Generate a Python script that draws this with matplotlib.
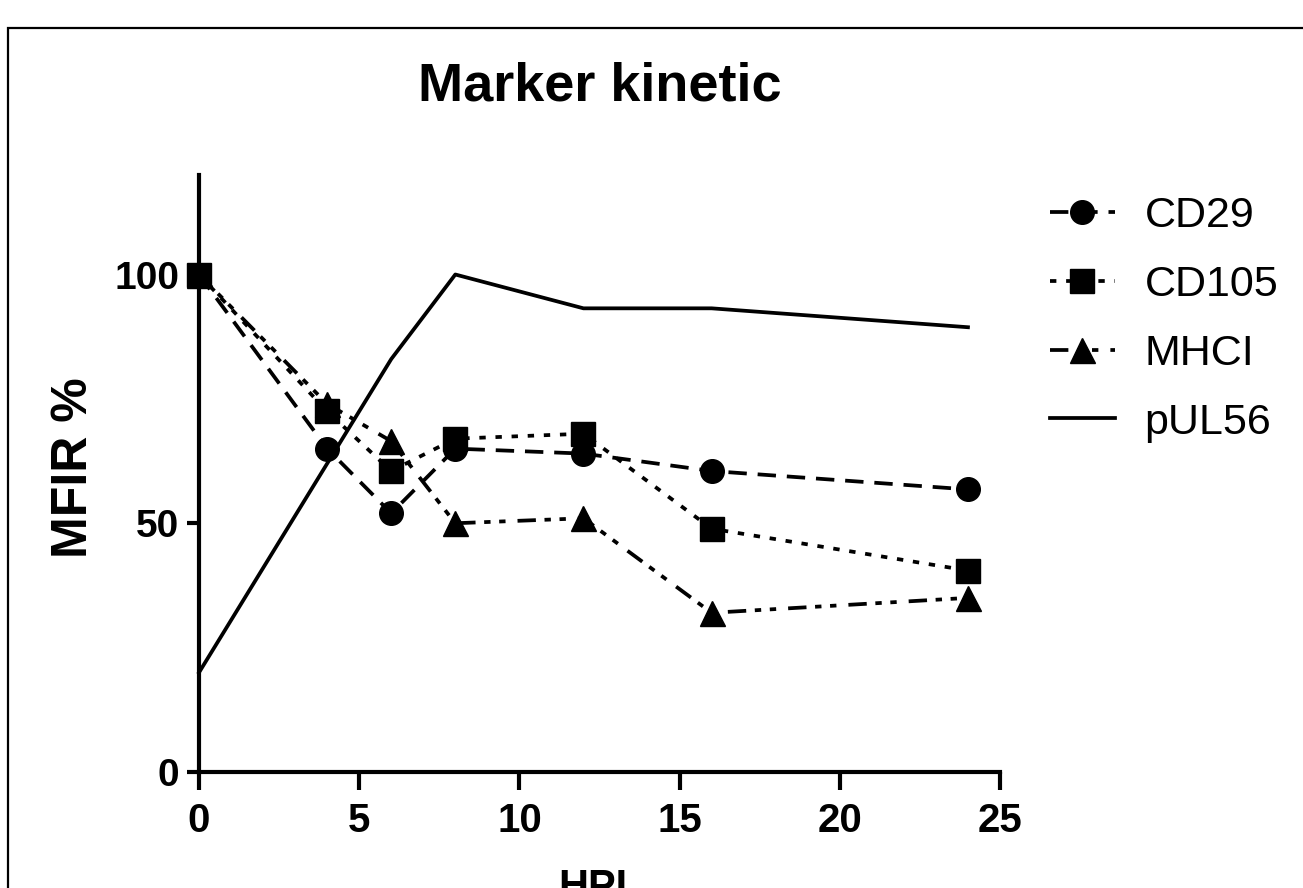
import matplotlib
matplotlib.use("Agg")
import matplotlib.pyplot as plt
from matplotlib.patches import Rectangle

# ---- data ----
hpl = [0, 4, 6, 8, 12, 16, 24]
cd29 = [100, 65, 52, 65, 64, 60.5, 56.8]
cd105 = [100, 72.5, 60.5, 67, 68, 48.9, 40.5]
mhci = [100, 74, 66.5, 50, 51, 32, 35]
pul56 = [20, 62, 83, 100, 93.2, 93.2, 89.4]
series_names = ["CD29", "CD105", "MHCI", "pUL56"]
x_ticks = [0, 5, 10, 15, 20, 25]
y_ticks = [0, 50, 100]

plt.rcParams['font.family'] = ['Liberation Sans', 'DejaVu Sans']

W, H = 1303, 888
fig = plt.figure(figsize=(W / 100, H / 100), dpi=100)
ax = fig.add_axes([199 / W, 1 - 772 / H, (1000 - 199) / W, (772 - 175) / H])

lw = 2.7
ax.plot(hpl, cd29, color='black', lw=lw, linestyle=(0, (4.9, 2.9)), marker='o', ms=17,
        clip_on=False, label=series_names[0], zorder=3)
ax.plot(hpl, cd105, color='black', lw=lw, linestyle=(0, (1.7, 2.6)), marker='s', ms=17,
        clip_on=False, label=series_names[1], zorder=3)
ax.plot(hpl, mhci, color='black', lw=lw,
        linestyle=(0, (4.9, 2.3, 1.7, 2.3, 1.7, 3.2)), marker='^', ms=18,
        clip_on=False, label=series_names[2], zorder=3)
ax.plot(hpl, pul56, color='black', lw=lw, linestyle='-', clip_on=False,
        label=series_names[3], zorder=2)

ax.set_xlim(0, 25)
ax.set_ylim(0, 120)
ax.set_xticks(x_ticks)
ax.set_yticks(y_ticks)
for s in ['top', 'right']:
    ax.spines[s].set_visible(False)
for s in ['left', 'bottom']:
    ax.spines[s].set_linewidth(3)
ax.tick_params(axis='y', length=9, width=3, pad=5)
ax.tick_params(axis='x', length=13, width=3, pad=8.5)
for lab in ax.get_xticklabels():
    lab.set_fontweight('bold')
    lab.set_fontsize(29)
for lab in ax.get_yticklabels():
    lab.set_fontweight('bold')
    lab.set_fontsize(28)

ax.set_title("Marker kinetic", fontsize=39, fontweight='bold', pad=54)
ax.set_xlabel("HPL", fontsize=30, fontweight='bold', labelpad=20)
ax.set_ylabel("MFIR %", fontsize=36, fontweight='bold')
ax.yaxis.set_label_coords((97 - 199) / 801, 0.51)

leg = ax.legend(loc='upper left', bbox_to_anchor=(1050 / W, 1 - 196 / H),
                bbox_transform=fig.transFigure, frameon=False, fontsize=31,
                borderpad=0, borderaxespad=0, handlelength=1.5, handletextpad=0.7,
                labelspacing=0.67)

fig.add_artist(Rectangle((8 / W, -0.2), 1.2, 1.2 - 28 / H, transform=fig.transFigure,
                         fill=False, edgecolor='black', linewidth=1.6, clip_on=False))

fig.savefig("out.png", dpi=100)
